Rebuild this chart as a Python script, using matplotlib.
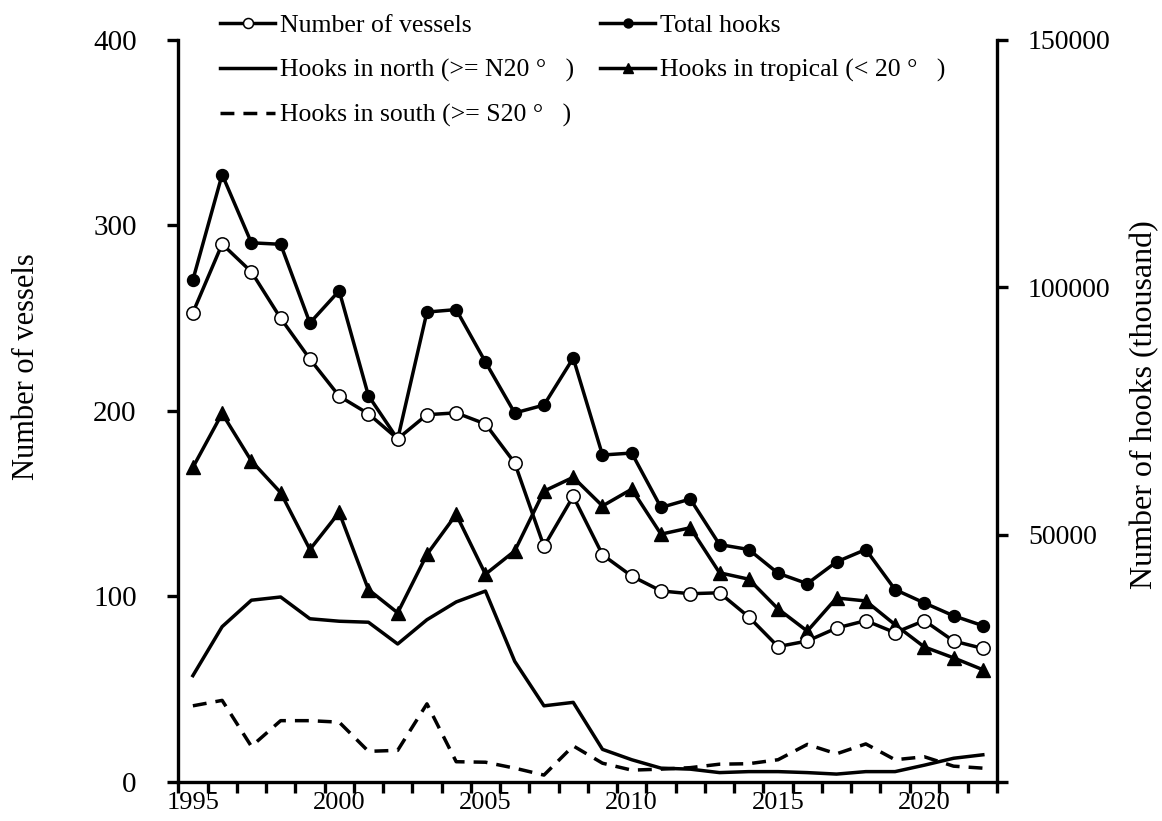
import matplotlib
matplotlib.use("Agg")
import matplotlib.pyplot as plt
from matplotlib.ticker import FixedLocator, NullFormatter

plt.rcParams["font.family"] = ["Liberation Serif", "DejaVu Serif"]

years = list(range(1995, 2023))

# number of vessels (left axis)
vessels = [253, 290, 275, 250, 228, 208, 198.5, 185, 198, 199, 193, 172, 127, 154,
           122.5, 111, 103, 101.5, 102, 89, 73, 76, 83, 87, 80.5, 87, 76, 72]

# hooks, thousand (right axis)
total_hooks = [101500, 122800, 109000, 108700, 92800, 99300, 78100, 69300, 95000, 95500,
               84900, 74600, 76200, 85700, 66100, 66500, 55500, 57200, 48000, 47000,
               42200, 40100, 44500, 47000, 38900, 36200, 33600, 31600]
tropical_hooks = [63600, 74500, 64900, 58500, 47000, 54500, 38900, 34200, 46000, 54100,
                  42000, 46700, 58800, 61600, 55800, 59200, 50100, 51400, 42300, 41000,
                  35000, 30500, 37200, 36600, 31800, 27300, 25100, 22700]
north_hooks = [21500, 31400, 36750, 37400, 33000, 32500, 32300, 27900, 32800, 36400,
               38600, 24400, 15400, 16100, 6600, 4500, 2800, 2600, 1900, 2100,
               2100, 1900, 1600, 2100, 2100, 3400, 4800, 5500]
south_hooks = [15400, 16500, 7200, 12400, 12400, 12100, 6200, 6400, 15800, 4100,
               4000, 2800, 1400, 7300, 3800, 2400, 2600, 2900, 3600, 3700,
               4500, 7600, 5700, 7700, 4500, 5100, 3200, 2800]

year_labels = [1995, 2000, 2005, 2010, 2015, 2020]
left_ticks = [0, 100, 200, 300, 400]
right_ticks = [0, 50000, 100000, 150000]

LW = 2.5
SPINE_LW = 2.4

fig = plt.figure(figsize=(11.62, 8.21), dpi=100)
ax = fig.add_axes([0.1534, 0.0475, 0.8584 - 0.1534, 0.9513 - 0.0475])
ax2 = ax.twinx()

h_vessels, = ax.plot(years, vessels, color="black", lw=LW, marker="o", ms=9.6,
                     mfc="white", mec="black", mew=1.1, zorder=3,
                     label="Number of vessels")

h_total, = ax2.plot(years, total_hooks, color="black", lw=LW, marker="o", ms=8.6,
                    mfc="black", mec="black", label="Total hooks")
h_north, = ax2.plot(years, north_hooks, color="black", lw=LW,
                    label="Hooks in north (>= N20 \u00b0   )")
h_trop, = ax2.plot(years, tropical_hooks, color="black", lw=LW, marker="^", ms=10,
                   mfc="black", mec="black", label="Hooks in tropical (< 20 \u00b0   )")
h_south, = ax2.plot(years, south_hooks, color="black", lw=LW, ls=(0, (4, 2.6)),
                    label="Hooks in south (>= S20 \u00b0   )")

ax.set_xlim(1994.5, 2022.5)
ax.set_ylim(0, 400)
ax2.set_ylim(0, 150000)

# year boundaries get ticks, labels sit at the year itself
ax.xaxis.set_major_locator(FixedLocator([y - 0.5 for y in years] + [2022.5]))
ax.xaxis.set_major_formatter(NullFormatter())
ax.set_xticks(year_labels, minor=True)
ax.set_xticklabels([str(y) for y in year_labels], minor=True, fontsize=19)
ax.tick_params(axis="x", which="major", direction="out", length=8, width=SPINE_LW)
ax.tick_params(axis="x", which="minor", length=0, pad=7)

ax.set_yticks(left_ticks)
ax.set_yticklabels([str(v) for v in left_ticks], fontsize=21)
ax.tick_params(axis="y", direction="out", length=8, width=SPINE_LW, pad=22)

ax2.set_yticks(right_ticks)
ax2.set_yticklabels([""] + [str(v) for v in right_ticks[1:]], fontsize=20)
ax2.tick_params(axis="y", direction="out", length=8, width=SPINE_LW, pad=14)

for a in (ax, ax2):
    a.spines["top"].set_visible(False)
    for side in ("left", "right", "bottom"):
        a.spines[side].set_linewidth(SPINE_LW)
ax.spines["right"].set_visible(False)
ax2.spines["left"].set_visible(False)
ax2.spines["bottom"].set_visible(False)
ax.set_zorder(ax2.get_zorder() + 1)
ax.patch.set_visible(False)

fig.text(0.0225, 0.554, "Number of vessels", rotation=90, ha="center", va="center",
         fontsize=22)
fig.text(0.985, 0.507, "Number of hooks (thousand)", rotation=90, ha="center",
         va="center", fontsize=23)

leg_kw = dict(frameon=False, fontsize=18.5, handlelength=2.15, handletextpad=0.2,
              labelspacing=0.85, borderpad=0, borderaxespad=0, markerscale=0.75,
              bbox_transform=fig.transFigure, loc="upper left")
leg1 = fig.legend(handles=[h_vessels, h_north, h_south],
                  bbox_to_anchor=(220 / 1162, 0.983), **leg_kw)
leg2 = fig.legend(handles=[h_total, h_trop],
                  bbox_to_anchor=(600 / 1162, 0.983), **leg_kw)

fig.savefig("out.png", dpi=100)
